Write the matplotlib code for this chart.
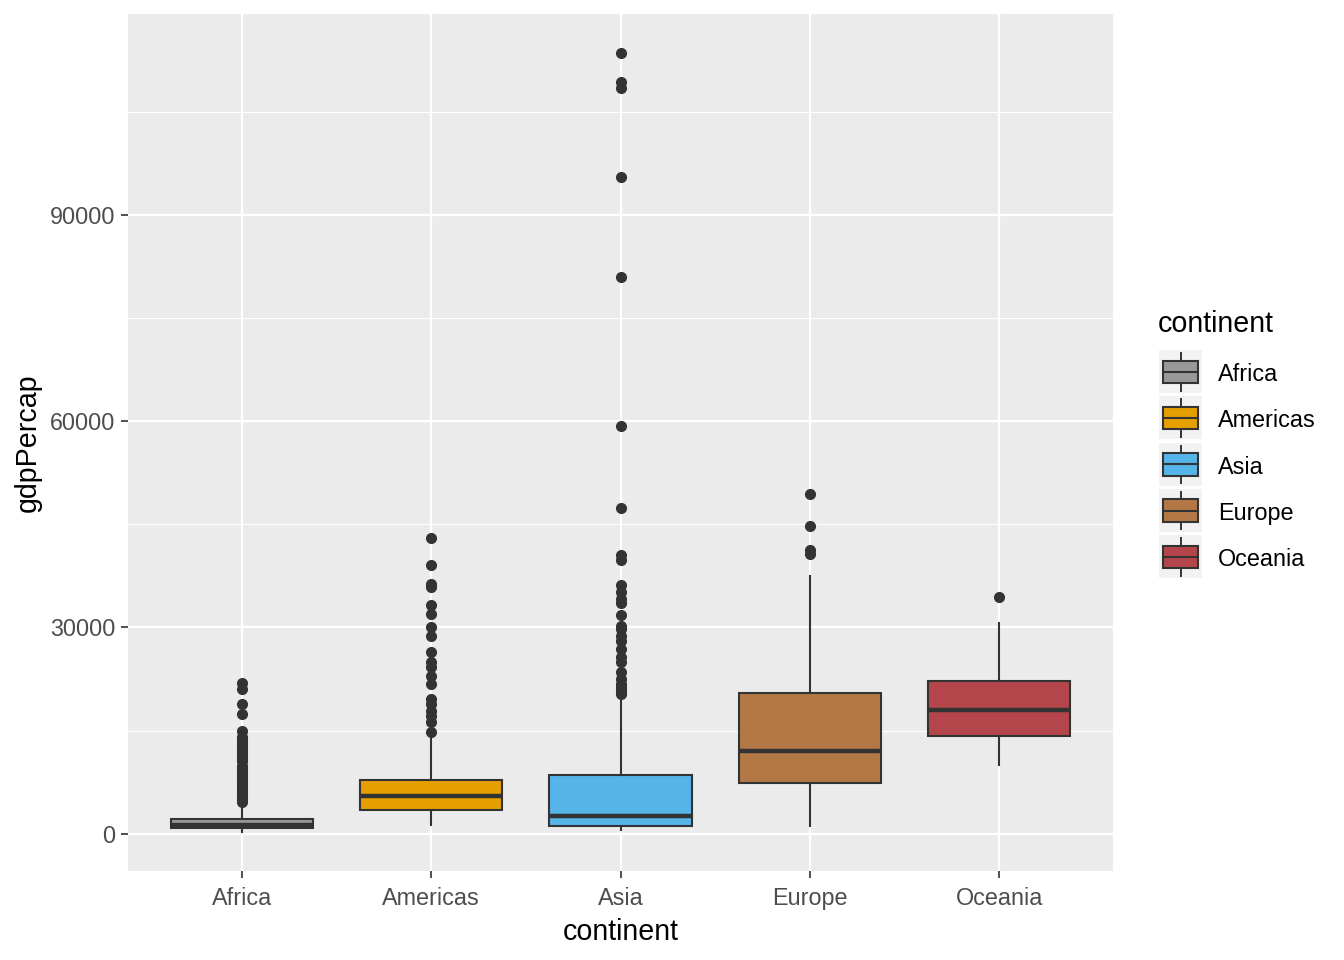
import matplotlib
matplotlib.use('Agg')
import matplotlib.pyplot as plt
from matplotlib.patches import Rectangle

# box statistics (gdpPercap by continent)
continents = ['Africa', 'Americas', 'Asia', 'Europe', 'Oceania']
colors = ['#999999', '#E69F00', '#56B4E9', '#B47846', '#B4464B']
q1 = [780, 3430, 1060, 7360, 14140]
medians = [1250, 5470, 2570, 12080, 17980]
q3 = [2150, 7830, 8560, 20460, 22210]
whisker_lo = [300, 1200, 480, 1100, 10040]
whisker_hi = [4100, 14400, 19600, 37400, 30600]

africa_out = [4600, 4900, 5200, 5500, 5800, 6100, 6400, 6700, 7000, 7300, 7600,
              7900, 8200, 8500, 8800, 9100, 9400, 9700, 9900, 10500, 10800, 11100,
              11400, 11700, 12000, 12300, 12600, 12900, 13200, 13600, 14100, 14900,
              17400, 18900, 21000, 21950]
americas_out = [14760, 16210, 17180, 17900, 18870, 19600, 21770, 22980, 24200,
                24930, 26380, 28800, 30000, 31940, 33250, 35810, 36290, 39050, 42950]
asia_out = [20320, 20700, 21050, 21400, 21770, 22500, 23470, 24930, 25640, 26860,
            28060, 28790, 29760, 30240, 31790, 33530, 34110, 35170, 36150, 39820,
            40500, 47300, 59265, 80895, 95458, 108382, 109348, 113523]
europe_out = [40700, 41300, 44700, 49357]
oceania_out = [34450]
fliers = [africa_out, americas_out, asia_out, europe_out, oceania_out]

yticks = [0, 30000, 60000, 90000]

dark = '#333333'
plt.rcParams['font.family'] = ['Liberation Sans', 'DejaVu Sans']

fig = plt.figure(figsize=(13.44, 9.6), dpi=100)
ax = fig.add_axes([128 / 1344, 89 / 960, 985 / 1344, 857 / 960])
ax.set_facecolor('#EBEBEB')

stats = []
for i in range(len(continents)):
    stats.append(dict(label=continents[i], q1=q1[i], med=medians[i], q3=q3[i],
                      whislo=whisker_lo[i], whishi=whisker_hi[i], fliers=fliers[i]))

pos = list(range(1, len(continents) + 1))
bp = ax.bxp(stats, positions=pos, widths=0.75, patch_artist=True, showcaps=False,
            boxprops=dict(edgecolor=dark, linewidth=1.5),
            whiskerprops=dict(color=dark, linewidth=1.5),
            medianprops=dict(color=dark, linewidth=3.2, solid_capstyle='butt'),
            flierprops=dict(marker='o', markerfacecolor=dark, markeredgecolor=dark,
                            markersize=7, linestyle='none'),
            zorder=3)
for patch, c in zip(bp['boxes'], colors):
    patch.set_facecolor(c)

ax.set_xlim(0.4, 5.6)
ax.set_ylim(-5423, 119187)
ax.set_xticks(pos)
ax.set_xticklabels(continents)
ax.set_yticks(yticks)
ax.set_yticks([15000, 45000, 75000, 105000], minor=True)
ax.grid(True, which='major', color='white', linewidth=1.6, zorder=0)
ax.grid(True, which='minor', color='white', linewidth=0.8, zorder=0)
ax.set_axisbelow(True)
for s in ax.spines.values():
    s.set_visible(False)
ax.tick_params(axis='both', which='major', length=5, width=1.2, color=dark,
               labelcolor='#4D4D4D', labelsize=16.8)
ax.tick_params(axis='x', which='major', pad=6.5)
ax.tick_params(axis='y', which='major', pad=4)
ax.tick_params(axis='both', which='minor', length=0)
ax.set_xlabel('continent', fontsize=20.6, labelpad=6)
ax.set_ylabel('gdpPercap', fontsize=20.6, labelpad=6)

# legend drawn in pixel coordinates
lg = fig.add_axes([0, 0, 1, 1])
lg.set_xlim(0, 1344)
lg.set_ylim(960, 0)
lg.axis('off')
lg.patch.set_alpha(0)
lg.text(1158, 324, 'continent', fontsize=20.6, va='center', ha='left')
for i, name in enumerate(continents):
    top = 350 + i * 46.3
    lg.add_patch(Rectangle((1159, top), 43, 43, facecolor='#F2F2F2', edgecolor='none'))
    cx = 1180.5
    lg.plot([cx, cx], [top + 3, top + 10.5], color=dark, lw=1.4)
    lg.plot([cx, cx], [top + 33, top + 40.5], color=dark, lw=1.4)
    lg.add_patch(Rectangle((1163, top + 10.5), 35, 22.5, facecolor=colors[i],
                           edgecolor=dark, linewidth=1.5))
    lg.plot([1163, 1198], [top + 21.8, top + 21.8], color=dark, lw=1.5)
    lg.text(1218, top + 24.5, name, fontsize=16.8, va='center', ha='left')

fig.savefig('out.png', dpi=100, facecolor='white')
